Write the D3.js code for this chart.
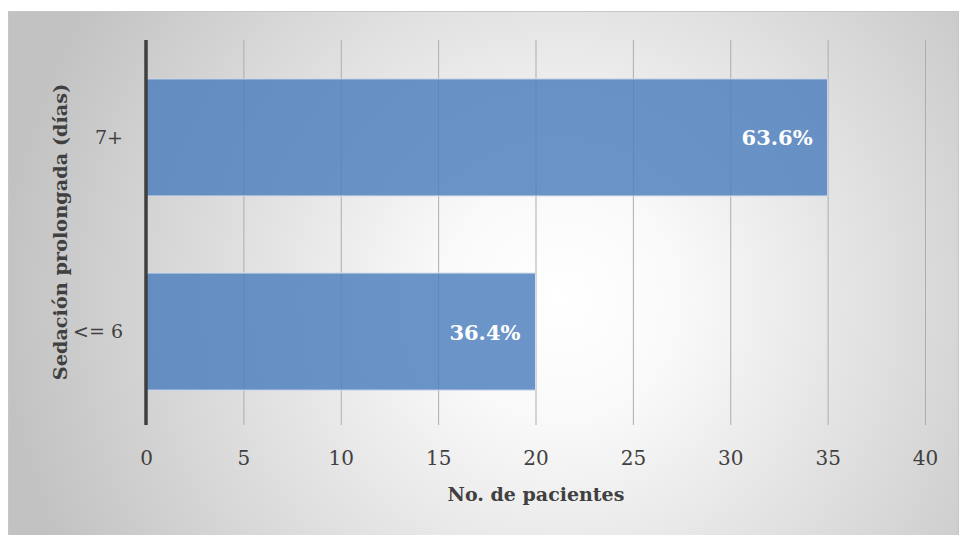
<!DOCTYPE html>
<html><head><meta charset="utf-8">
<script src="https://cdn.jsdelivr.net/npm/d3@7"></script>
<style>html,body{margin:0;padding:0;background:#fff;}svg{display:block;}</style>
</head><body>
<svg id="c" width="959" height="535"></svg>
<script>
const categories = ["7+", "<= 6"];
const values = [35, 20];
const labels = ["63.6%", "36.4%"];
const xTicks = [0, 5, 10, 15, 20, 25, 30, 35, 40];
const xTitle = "No. de pacientes";
const yTitle = "Sedación prolongada (días)";

const svg = d3.select("#c");
const defs = svg.append("defs");
const rg = defs.append("radialGradient").attr("id","bg")
  .attr("gradientUnits","userSpaceOnUse").attr("cx",560).attr("cy",300).attr("r",560);
rg.append("stop").attr("offset","0").attr("stop-color","#ffffff");
rg.append("stop").attr("offset","0.22").attr("stop-color","#f9f9f9");
rg.append("stop").attr("offset","1").attr("stop-color","#c2c2c2");

svg.append("rect").attr("x",8.5).attr("y",11.5).attr("width",950).attr("height",530)
  .attr("fill","url(#bg)").attr("stroke","#c6c6c6").attr("stroke-width",1);

const font = "'DejaVu Serif', 'Liberation Serif', serif";
const x = d3.scaleLinear().domain([0,40]).range([146,925]);
const y = d3.scaleBand().domain(categories).range([42,427]).paddingInner(0.397).paddingOuter(0.19);

// gridlines
svg.append("g").selectAll("line").data(xTicks.filter(d=>d>0)).join("line")
  .attr("x1",d=>x(d)+0.5).attr("x2",d=>x(d)+0.5).attr("y1",40).attr("y2",425)
  .attr("stroke","#adadad").attr("stroke-width",1);

// bars
svg.append("g").selectAll("rect").data(values).join("rect")
  .attr("x",x(0)).attr("y",(d,i)=>y(categories[i]))
  .attr("width",d=>x(d)-x(0)).attr("height",y.bandwidth())
  .attr("fill","#4f81bd").attr("fill-opacity",0.84)
  .attr("stroke","#d3dcea").attr("stroke-width",1);

// axis line
svg.append("line").attr("x1",x(0)).attr("x2",x(0)).attr("y1",40).attr("y2",425)
  .attr("stroke","#3f3f3f").attr("stroke-width",3.5);

// x tick labels
const xAxis = d3.axisBottom(x).tickValues(xTicks).tickSize(0).tickPadding(0);
const gx = svg.append("g").attr("transform","translate(0,451)").call(xAxis);
gx.select(".domain").remove();
gx.selectAll("text").attr("font-family",font).attr("font-size",20).attr("fill","#404040")
  .attr("dy","0.71em");

// y tick labels
const yAxis = d3.axisLeft(y).tickSize(0).tickPadding(0);
const gy = svg.append("g").attr("transform","translate(123,0)").call(yAxis);
gy.select(".domain").remove();
gy.selectAll("text").attr("font-family",font).attr("font-size",19).attr("fill","#404040");

// data labels
svg.append("g").selectAll("text").data(values).join("text")
  .attr("x",d=>x(d)-15).attr("y",(d,i)=>y(categories[i])+y.bandwidth()/2)
  .attr("dy","0.38em").attr("text-anchor","end")
  .attr("font-family",font).attr("font-weight","bold").attr("font-size",21)
  .attr("fill","#ffffff").text((d,i)=>labels[i]);

// titles
svg.append("text").attr("x",536).attr("y",501).attr("text-anchor","middle")
  .attr("font-family",font).attr("font-weight","bold").attr("font-size",19)
  .attr("fill","#404040").text(xTitle);
svg.append("text").attr("transform","translate(67,232) rotate(-90)").attr("text-anchor","middle")
  .attr("font-family",font).attr("font-weight","bold").attr("font-size",19.3)
  .attr("fill","#404040").text(yTitle);
</script>
</body></html>
